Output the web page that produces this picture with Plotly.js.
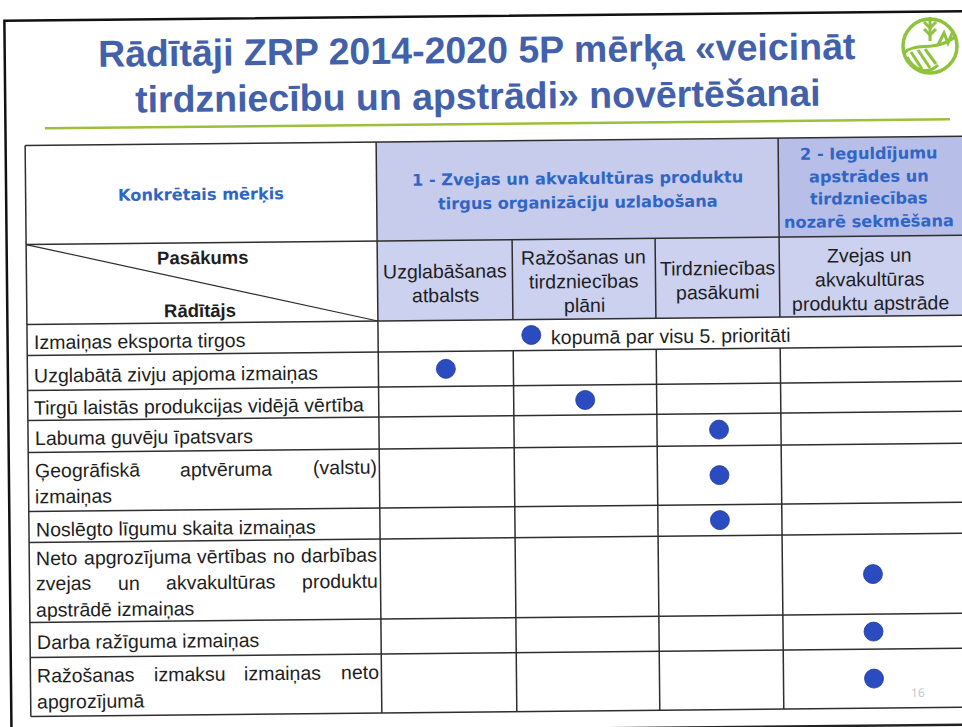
<!DOCTYPE html>
<html><head><meta charset="utf-8">
<script src="https://cdn.plot.ly/plotly-3.0.1.min.js"></script>
<style>html,body{margin:0;padding:0;background:#fff}#chart{width:962px;height:727px}</style>
</head><body><div id="chart"></div>
<script>
// ---------------- data ----------------
const titleLines = ["Rādītāji ZRP 2014-2020 5P mērķa «veicināt", "tirdzniecību un apstrādi» novērtēšanai"];
const cornerTop = "Konkrētais mērķis";
const cornerMeasure = "Pasākums";
const cornerIndicator = "Rādītājs";
const goalLabels = [
  ["1 - Zvejas un akvakultūras produktu", "tirgus organizāciju uzlabošana"],
  ["2 - Ieguldījumu", "apstrādes un", "tirdzniecības", "nozarē sekmēšana"]
];
const goalOfMeasure = [0, 0, 0, 1];
const measureLabels = [
  ["Uzglabāšanas", "atbalsts"],
  ["Ražošanas un", "tirdzniecības", "plāni"],
  ["Tirdzniecības", "pasākumi"],
  ["Zvejas un", "akvakultūras", "produktu apstrāde"]
];
const indicatorLabels = [
  ["Izmaiņas eksporta tirgos"],
  ["Uzglabātā zivju apjoma izmaiņas"],
  ["Tirgū laistās produkcijas vidējā vērtība"],
  ["Labuma guvēju īpatsvars"],
  ["Ģeogrāfiskā aptvēruma (valstu)", "izmaiņas"],
  ["Noslēgto līgumu skaita izmaiņas"],
  ["Neto apgrozījuma vērtības no darbības", "zvejas un akvakultūras produktu", "apstrādē izmaiņas"],
  ["Darba ražīguma izmaiņas"],
  ["Ražošanas izmaksu izmaiņas neto", "apgrozījumā"]
];
// -1 = applies to the whole priority (merged row)
const indicatorMeasure = [-1, 0, 1, 2, 2, 2, 3, 3, 3];
const wholePriorityNote = "kopumā par visu 5. prioritāti";
const pageNumber = "16";

// ---------------- layout / style ----------------
const colEdges = [28, 379, 514, 657, 781, 975];
const tableTop = 141, goalBottom = 240, headBottom = 320;
const rowHeights = [31, 35, 30, 32, 59, 31, 80, 35, 59];
const rowEdges = [headBottom];
rowHeights.forEach(h => rowEdges.push(rowEdges[rowEdges.length - 1] + h));
const tableBottom = rowEdges[rowEdges.length - 1];

const CX = 481, CY = 430, S = 0.0100, C = Math.sqrt(1 - S * S);
const ANG = -Math.asin(S) * 180 / Math.PI;
function R(x, y) { const dx = x - CX, dy = y - CY; return [CX + dx * C + dy * S, CY - dx * S + dy * C]; }
function P(pts, close) {
  return pts.map((p, i) => { const q = R(p[0], p[1]); return (i ? 'L' : 'M') + q[0].toFixed(2) + ',' + q[1].toFixed(2); }).join(' ') + (close ? ' Z' : '');
}

const LINE = '#2e2e2e', LW = 1.5;
const BLUE = '#2f66c6', TITLE = '#4361aa', TXT = '#1e1e1e';
const FREG = 'Liberation Sans, Arial, sans-serif';
const FBLUE = 'DejaVu Sans, Verdana, sans-serif';
const REG = 19.5;

const shapes = [], annotations = [];
function line(pts, color, width) { shapes.push({type: 'path', path: P(pts), line: {color: color || LINE, width: width || LW}, layer: 'above'}); }
function rect(x0, y0, x1, y1, fill) { shapes.push({type: 'path', path: P([[x0, y0], [x1, y0], [x1, y1], [x0, y1]], true), fillcolor: fill, line: {width: 0}, layer: 'below'}); }
function text(t, x, y, font, anchor) {
  const q = R(x, y);
  annotations.push({x: q[0], y: q[1], xref: 'x', yref: 'y', text: t, showarrow: false,
    xanchor: anchor || 'center', yanchor: 'middle', textangle: ANG, font: font, borderpad: 0});
}
function lines(arr, cx, cy, spacing, font) {
  const n = arr.length;
  arr.forEach((t, i) => text(t, cx, cy + (i - (n - 1) / 2) * spacing, font));
}
const cv = document.createElement('canvas').getContext('2d');
function tw(t, size, fam) { cv.font = size + 'px ' + fam; return cv.measureText(t).width; }

// slide frame
line([[8.5, 740], [8.5, 16], [990, 16]], '#111', 2.5);
line([[8.5, 729.5], [990, 729.5]], '#222', 2.5);
// title
const titleFont = {family: FREG, size: 37.5, color: TITLE, weight: 'bold'};
text('<b>' + titleLines[0] + '</b>', 481, 50, titleFont);
text('<b>' + titleLines[1] + '</b>', 481, 96, titleFont);
line([[48, 124], [953, 124]], '#9cc03a', 2.5);

// header fills
const colRight = colEdges[colEdges.length - 1];
rect(colEdges[1], tableTop, colEdges[4], goalBottom, '#c7cced');
rect(colEdges[4], tableTop, colRight, goalBottom, '#b7bee8');
rect(colEdges[1], goalBottom, colRight, headBottom, '#ccd1f0');

// grid lines
[tableTop, goalBottom, headBottom].concat(rowEdges.slice(1)).forEach(y => line([[colEdges[0], y], [colRight, y]]));
line([[colEdges[0], tableTop], [colEdges[0], tableBottom]]);
line([[colEdges[1], tableTop], [colEdges[1], tableBottom]]);
// boundaries between measures
for (let m = 1; m < measureLabels.length; m++) {
  const xe = colEdges[m + 1];
  const top = goalOfMeasure[m] !== goalOfMeasure[m - 1] ? tableTop : goalBottom;
  line([[xe, top], [xe, headBottom]]);
  for (let i = 0; i < indicatorLabels.length; i++) {
    if (indicatorMeasure[i] >= 0) line([[xe, rowEdges[i]], [xe, rowEdges[i + 1]]]);
  }
}
// diagonal corner
line([[colEdges[0], goalBottom], [colEdges[1], headBottom]], LINE, 1.2);

// header texts
const blueFont = {family: FBLUE, size: 16.2, color: BLUE, weight: 'bold'};
text('<b>' + cornerTop + '</b>', (colEdges[0] + colEdges[1]) / 2, (tableTop + goalBottom) / 2 + 1.5, blueFont);
const goalCellRight = [colEdges[4], 962];
goalLabels.forEach((g, k) => {
  const ms = goalOfMeasure.map((v, i) => v === k ? i : -1).filter(i => i >= 0);
  const x0 = colEdges[ms[0] + 1], x1 = Math.min(colEdges[ms[ms.length - 1] + 2], 962);
  lines(g.map(s => '<b>' + s + '</b>'), (x0 + x1) / 2, (tableTop + goalBottom) / 2 + 1, k === 0 ? 24 : 22.7, blueFont);
});
const boldBlack = {family: FREG, size: 18.5, color: TXT, weight: 'bold'};
text('<b>' + cornerMeasure + '</b>', 205, goalBottom + 15, boldBlack);
text('<b>' + cornerIndicator + '</b>', 201, headBottom - 12, boldBlack);
const regFont = {family: FREG, size: REG, color: TXT};
measureLabels.forEach((m, i) => lines(m, (colEdges[i + 1] + Math.min(colEdges[i + 2], 962)) / 2, (goalBottom + headBottom) / 2 + 2.5, 24, regFont));

// indicator labels (justified like the original)
const LX = 33.5, RX = 375;
indicatorLabels.forEach((ls, i) => {
  const cy = (rowEdges[i] + rowEdges[i + 1]) / 2 + 1;
  const n = ls.length;
  ls.forEach((t, j) => {
    const y = cy + (j - (n - 1) / 2) * 25.5;
    if (j < n - 1) {
      const words = t.split(' ');
      const ws = words.map(w => tw(w, REG, 'Liberation Sans'));
      const gap = (RX - LX - ws.reduce((a, b) => a + b, 0)) / (words.length - 1);
      let x = LX;
      words.forEach((w, k) => { text(w, x, y, regFont, 'left'); x += ws[k] + gap; });
    } else {
      text(t, LX, y, regFont, 'left');
    }
  });
});

// dots
const dx = [], dy = [];
const DOT = 19;
indicatorLabels.forEach((ls, i) => {
  const m = indicatorMeasure[i];
  const cy = (rowEdges[i] + rowEdges[i + 1]) / 2;
  if (m >= 0) {
    const q = R((colEdges[m + 1] + Math.min(colEdges[m + 2], 962)) / 2, cy);
    dx.push(q[0]); dy.push(q[1]);
  } else {
    const w = tw(wholePriorityNote, REG, 'Liberation Sans');
    const gw = DOT + 9 + w;
    const gx0 = (colEdges[1] + 962) / 2 - 14 - gw / 2;
    const q = R(gx0 + DOT / 2, cy);
    dx.push(q[0]); dy.push(q[1]);
    text(wholePriorityNote, gx0 + DOT + 9, cy + 1, regFont, 'left');
  }
});

// page number
text(pageNumber, 915, 697, {family: 'Open Sans, sans-serif', size: 12, color: '#c4c4c4'});

// logo (green emblem)
const LG = '#8fc23d';
shapes.push({type: 'circle', x0: 903, x1: 957, y0: 19, y1: 73, xref: 'x', yref: 'y', line: {color: LG, width: 3.5}});
const logoPaths = [
  'M 930,17 L 930,41',
  'M 924,22 L 930,28 L 936,22',
  'M 924,29 L 930,35 L 936,29',
  'M 904,53 C 916,41 936,53 956,36',
  'M 907,57 C 914,71 928,75 938,65',
  'M 911,52 L 922,69', 'M 918,50 L 930,68', 'M 925,49 L 936,64',
  'M 938,45 L 944,33 L 948,43 L 953,31'
];
logoPaths.forEach(p => shapes.push({type: 'path', path: p, line: {color: LG, width: 3}}));

const traces = [{
  type: 'scatter', mode: 'markers', x: dx, y: dy, hoverinfo: 'skip', cliponaxis: false,
  marker: {size: DOT, color: '#2b4cc0', line: {width: 0.8, color: '#1f3a9e'}}
}];

const layout = {
  width: 962, height: 727, margin: {l: 0, r: 0, t: 0, b: 0},
  paper_bgcolor: '#ffffff', plot_bgcolor: '#ffffff', showlegend: false,
  xaxis: {range: [0, 962], visible: false, fixedrange: true},
  yaxis: {range: [727, 0], visible: false, fixedrange: true},
  shapes: shapes, annotations: annotations
};
Plotly.newPlot('chart', traces, layout, {staticPlot: true, displayModeBar: false});
</script></body></html>
